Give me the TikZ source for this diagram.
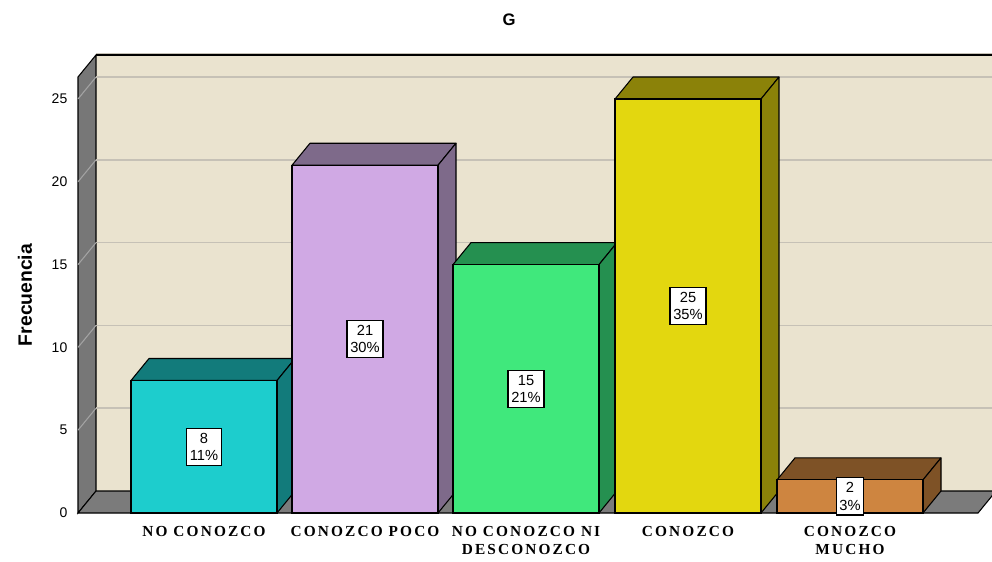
\documentclass[tikz,border=0pt]{standalone}
\usepackage{fontspec}
\setmainfont{Liberation Sans}
\newfontfamily\catfont{Liberation Serif}[LetterSpace=14]
\usepackage{tikz}
\usetikzlibrary{positioning}
\definecolor{wallback}{HTML}{EAE3CF}
\definecolor{wallside}{HTML}{777777}
\definecolor{floorgray}{HTML}{7B7B7B}
\definecolor{gridline}{HTML}{C6C1B6}
\definecolor{gridside}{HTML}{A3A3A3}
\definecolor{tealfront}{HTML}{1DCDCD}
\definecolor{tealside}{HTML}{127B7B}
\definecolor{lilacfront}{HTML}{D0A9E4}
\definecolor{lilacside}{HTML}{7E6A8A}
\definecolor{greenfront}{HTML}{40E87C}
\definecolor{greenside}{HTML}{259050}
\definecolor{yellowfront}{HTML}{E3D70F}
\definecolor{yellowside}{HTML}{8B8209}
\definecolor{orangefront}{HTML}{CE8540}
\definecolor{orangeside}{HTML}{7E5226}
% one 3d column: left x, value, front colour, side colour, name, label
\newcommand{\drawcolumn}[6]{%
  \filldraw[#4, draw=black, line width=0.8pt, line join=round]
    (#1,{513-#2*16.56}) -- ++(18,-22) -- ++(146,0) -- ++(-18,22) -- cycle;
  \filldraw[#4, draw=black, line width=0.8pt, line join=round]
    (#1+146,{513-#2*16.56}) -- ++(18,-22) -- (#1+164,491) -- (#1+146,513) -- cycle;
  \filldraw[#3, draw=black, line width=0.8pt]
    (#1,{513-#2*16.56}) rectangle (#1+146,513);
  \node[ValBox] (#5) at (#1+73,{513-#2*8.28}) {#6};
}

\begin{document}
\begin{tikzpicture}
  [
    x=0.75pt, y=-0.75pt,
    ValBox/.style={draw=black, fill=white, line width=0.8pt, align=center,
      inner xsep=2.5pt, inner ysep=3.5pt, font=\fontsize{11}{13}\selectfont},
    CatLabel/.style={anchor=north, align=center, font=\catfont\bfseries\fontsize{11.5}{13.5}\selectfont},
    Tick/.style={anchor=east, font=\fontsize{10.5}{12}\selectfont}
  ]
  \useasboundingbox (0,0) rectangle (992,561);
  % Walls and floor
  \fill[wallback] (96,55) rectangle (992,491);
  \filldraw[wallside, draw=black, line width=0.8pt] (78,77) -- (96,55) -- (96,491) -- (78,513) -- cycle;
  \filldraw[floorgray, draw=black, line width=0.8pt] (78,513) -- (96,491) -- (996,491) -- (978,513) -- cycle;
  \draw[gridline, line width=1.2pt] (96,53.5) -- (992,53.5);
  \draw[black, line width=1pt] (96,55) -- (992,55);
  % Grid and ticks
  \foreach \v in {5,10,15,20,25}{
    \draw[gridline, line width=1.2pt] (96,{491-\v*16.56}) -- (992,{491-\v*16.56});
    \draw[gridside, line width=0.8pt] (78,{513-\v*16.56}) -- (96,{491-\v*16.56});
  }
  \foreach \v in {0,5,10,15,20,25}{
    \node[Tick] (t\v) at (72,{513-\v*16.56}) {\v};
  }
  % Columns
  \drawcolumn{131}{8}{tealfront}{tealside}{v1}{8\\11\%}
  \drawcolumn{292}{21}{lilacfront}{lilacside}{v2}{21\\30\%}
  \drawcolumn{453}{15}{greenfront}{greenside}{v3}{15\\21\%}
  \drawcolumn{615}{25}{yellowfront}{yellowside}{v4}{25\\35\%}
  \drawcolumn{777}{2}{orangefront}{orangeside}{v5}{2\\3\%}
  % Category labels
  \node[CatLabel] (c1) at (204,522) {NO CONOZCO};
  \node[CatLabel] (c2) at (365,522) {CONOZCO POCO};
  \node[CatLabel] (c3) at (526,522) {NO CONOZCO NI\\DESCONOZCO};
  \node[CatLabel] (c4) at (688,522) {CONOZCO};
  \node[CatLabel] (c5) at (850,522) {CONOZCO\\MUCHO};
  % Titles
  \node[font=\bfseries\fontsize{12.5}{14}\selectfont] (title) at (509,20) {G};
  \node[font=\bfseries\fontsize{14.5}{16}\selectfont, rotate=90] (ytitle) at (25,295) {Frecuencia};
\end{tikzpicture}
\end{document}
